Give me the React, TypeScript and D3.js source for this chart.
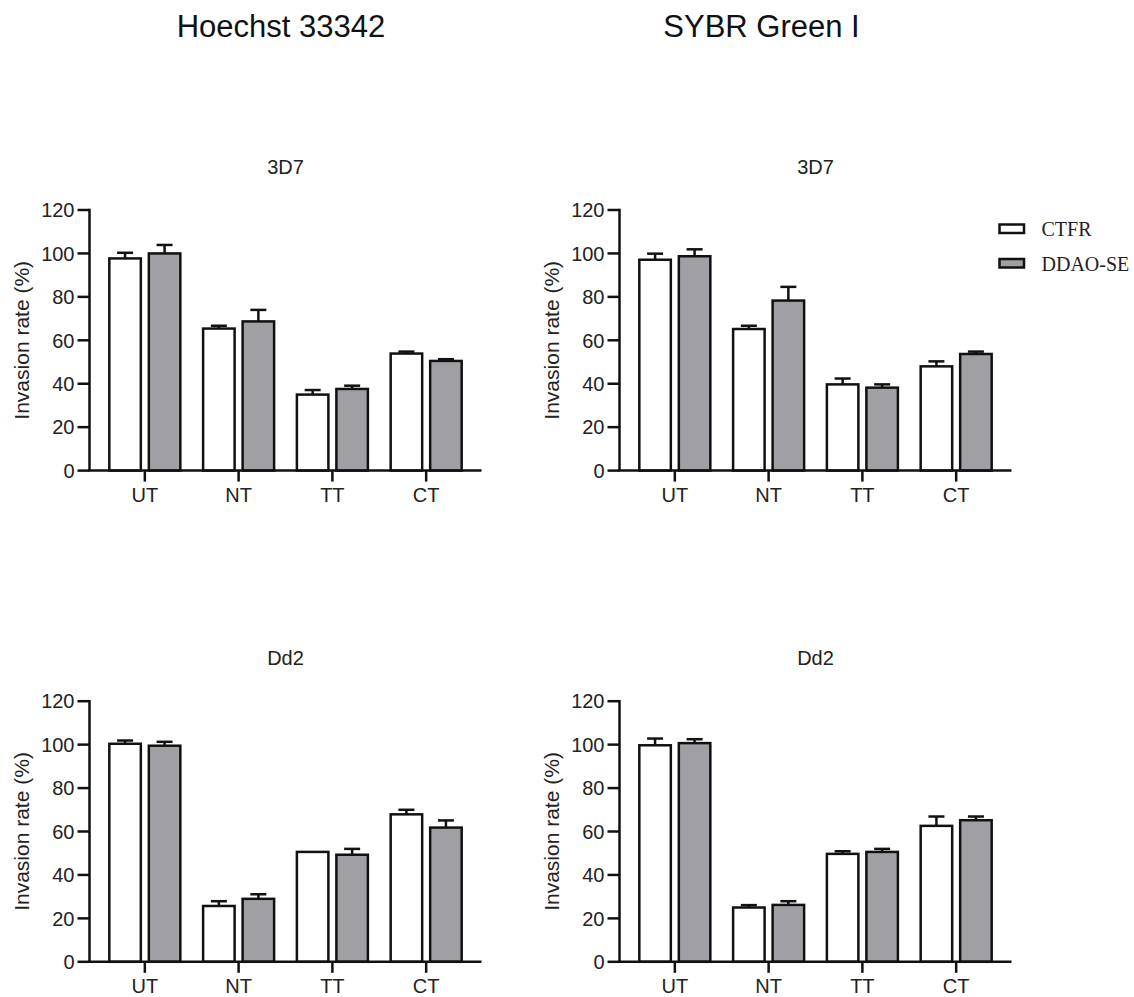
import React from "react";
import * as d3 from "d3";

// Treatment groups on the x axis and the two dye series
const categories = ["UT", "NT", "TT", "CT"];
const series = ["CTFR", "DDAO-SE"];
const yTicks = [0, 20, 40, 60, 80, 100, 120];

// Hoechst 33342 / 3D7
const hoechst3D7Ctfr = [97.7, 65.4, 35.0, 53.9];
const hoechst3D7CtfrErr = [2.6, 1.3, 2.1, 0.9];
const hoechst3D7Ddao = [100.0, 68.7, 37.6, 50.5];
const hoechst3D7DdaoErr = [3.9, 5.3, 1.5, 0.8];

// SYBR Green I / 3D7
const sybr3D7Ctfr = [97.1, 65.2, 39.7, 48.0];
const sybr3D7CtfrErr = [2.8, 1.5, 2.7, 2.3];
const sybr3D7Ddao = [98.7, 78.3, 38.2, 53.7];
const sybr3D7DdaoErr = [3.2, 6.3, 1.5, 1.1];

// Hoechst 33342 / Dd2
const hoechstDd2Ctfr = [100.4, 25.7, 50.6, 67.9];
const hoechstDd2CtfrErr = [1.5, 2.2, 0.0, 2.1];
const hoechstDd2Ddao = [99.5, 29.0, 49.3, 61.8];
const hoechstDd2DdaoErr = [1.8, 2.1, 2.7, 3.3];

// SYBR Green I / Dd2
const sybrDd2Ctfr = [99.7, 25.0, 49.7, 62.6];
const sybrDd2CtfrErr = [3.1, 1.1, 1.2, 4.3];
const sybrDd2Ddao = [100.7, 26.2, 50.6, 65.2];
const sybrDd2DdaoErr = [1.8, 1.7, 1.4, 1.7];

const FILLS = ["#ffffff", "#a0a0a4"];
const SANS = "'Liberation Sans', Arial, Helvetica, sans-serif";
const SERIF = "'Liberation Serif', 'Times New Roman', serif";
const STROKE = 2.5;

type PanelProps = {
  title: string;
  left: number;
  top: number;
  values: number[][];
  errors: number[][];
};

const PLOT_W = 392;
const PLOT_H = 260.6;

function Panel({ title, left, top, values, errors }: PanelProps) {
  const x = d3.scalePoint<string>().domain(categories).range([0, PLOT_W]).padding(0.59);
  const inner = d3.scaleBand<string>().domain(series).range([-35.5, 35.5]).paddingInner(0.2025);
  const y = d3.scaleLinear().domain([0, 120]).range([PLOT_H, 0]);

  return (
    <g transform={`translate(${left},${top})`}>
      <text
        x={PLOT_W / 2}
        y={-36}
        textAnchor="middle"
        fontFamily={SANS}
        fontSize={20}
        fill="#222"
      >
        {title}
      </text>

      {/* bars with upward error bars */}
      {categories.map((cat, ci) =>
        series.map((s, si) => {
          const v = values[si][ci];
          const e = errors[si][ci];
          const bx = (x(cat) as number) + (inner(s) as number);
          const bw = inner.bandwidth();
          const cx = bx + bw / 2;
          return (
            <g key={cat + s}>
              {e > 0 && (
                <g stroke="#111" strokeWidth={STROKE}>
                  <line x1={cx} x2={cx} y1={y(v)} y2={y(v + e)} />
                  <line x1={cx - 8} x2={cx + 8} y1={y(v + e)} y2={y(v + e)} />
                </g>
              )}
              <rect
                x={bx}
                y={y(v)}
                width={bw}
                height={y(0) - y(v)}
                fill={FILLS[si]}
                stroke="#111"
                strokeWidth={STROKE}
              />
            </g>
          );
        })
      )}

      {/* y axis */}
      <g stroke="#111" strokeWidth={STROKE}>
        <line x1={0} x2={0} y1={y(120) - STROKE / 2} y2={y(0)} />
        {yTicks.map((t) => (
          <line key={t} x1={-12} x2={0} y1={y(t)} y2={y(t)} />
        ))}
      </g>
      {yTicks.map((t) => (
        <text
          key={t}
          x={-15}
          y={y(t)}
          dy="0.36em"
          textAnchor="end"
          fontFamily={SANS}
          fontSize={20}
          fill="#222"
        >
          {t}
        </text>
      ))}
      <text
        transform={`translate(${-61},${PLOT_H / 2}) rotate(-90)`}
        textAnchor="middle"
        fontFamily={SANS}
        fontSize={21}
        fill="#222"
      >
        Invasion rate (%)
      </text>

      {/* x axis */}
      <g stroke="#111" strokeWidth={STROKE}>
        <line x1={-STROKE / 2} x2={PLOT_W} y1={y(0)} y2={y(0)} />
        {categories.map((c) => (
          <line key={c} x1={x(c)} x2={x(c)} y1={y(0)} y2={y(0) + 11} />
        ))}
      </g>
      {categories.map((c) => (
        <text
          key={c}
          x={x(c)}
          y={y(0) + 31.5}
          textAnchor="middle"
          fontFamily={SANS}
          fontSize={20}
          fill="#222"
        >
          {c}
        </text>
      ))}
    </g>
  );
}

export default function App() {
  return (
    <svg
      width={1134}
      height={997}
      viewBox="0 0 1134 997"
      style={{ position: "absolute", left: 0, top: 0, display: "block", background: "#fff" }}
    >
      <rect width={1134} height={997} fill="#fff" />
      <text x={281} y={37} textAnchor="middle" fontFamily={SANS} fontSize={31} fill="#111">
        Hoechst 33342
      </text>
      <text x={761.5} y={37} textAnchor="middle" fontFamily={SANS} fontSize={31} fill="#111">
        SYBR Green I
      </text>

      <Panel
        title="3D7"
        left={89.5}
        top={210}
        values={[hoechst3D7Ctfr, hoechst3D7Ddao]}
        errors={[hoechst3D7CtfrErr, hoechst3D7DdaoErr]}
      />
      <Panel
        title="3D7"
        left={619.5}
        top={210}
        values={[sybr3D7Ctfr, sybr3D7Ddao]}
        errors={[sybr3D7CtfrErr, sybr3D7DdaoErr]}
      />
      <Panel
        title="Dd2"
        left={89.5}
        top={701.2}
        values={[hoechstDd2Ctfr, hoechstDd2Ddao]}
        errors={[hoechstDd2CtfrErr, hoechstDd2DdaoErr]}
      />
      <Panel
        title="Dd2"
        left={619.5}
        top={701.2}
        values={[sybrDd2Ctfr, sybrDd2Ddao]}
        errors={[sybrDd2CtfrErr, sybrDd2DdaoErr]}
      />

      {/* legend */}
      {series.map((s, i) => (
        <g key={s} transform={`translate(999.5,${224.5 + i * 34.5})`}>
          <rect width={24.5} height={8.5} fill={FILLS[i]} stroke="#111" strokeWidth={STROKE} />
          <text x={42} y={11.5} fontFamily={SERIF} fontSize={20} fill="#222">
            {s}
          </text>
        </g>
      ))}
    </svg>
  );
}
